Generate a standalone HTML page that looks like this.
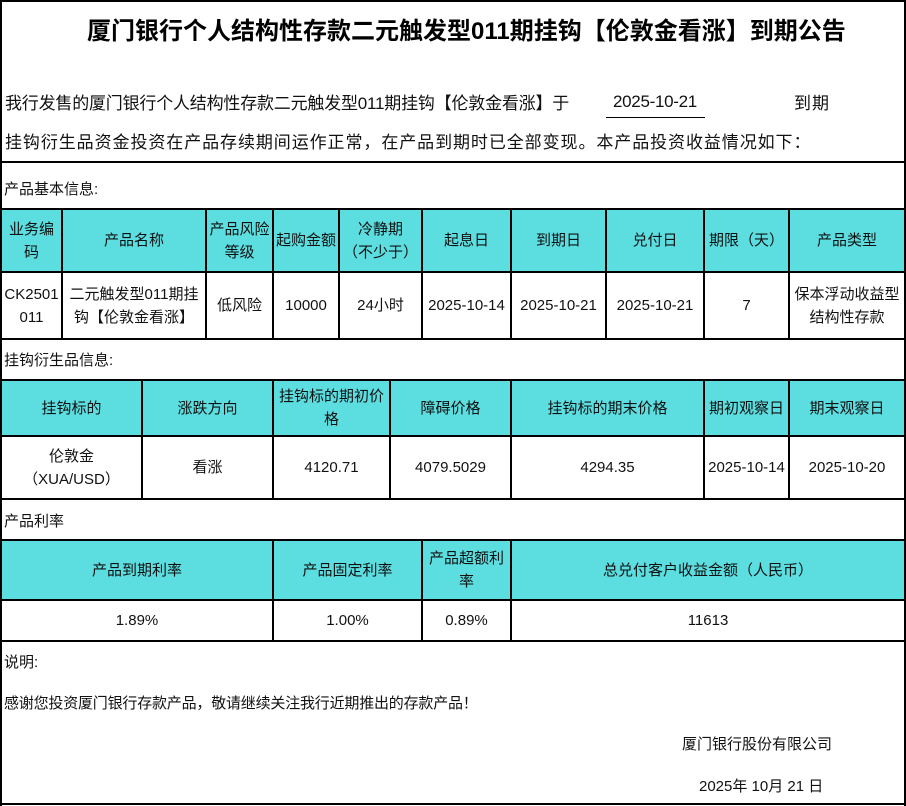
<!DOCTYPE html>
<html>
<head>
<meta charset="utf-8">
<style>
  html,body{margin:0;padding:0;background:#fff;}
  body{width:906px;height:806px;position:relative;overflow:hidden;
       font-family:"Liberation Sans","Noto Sans CJK SC",sans-serif;color:#111;}
  .l{position:absolute;background:#000;}
  .c{position:absolute;display:flex;align-items:center;justify-content:center;
     text-align:center;font-size:15px;line-height:23px;white-space:nowrap;}
  .cy{position:absolute;background:#5cdde0;}
  .t{position:absolute;white-space:nowrap;display:flex;align-items:center;}
</style>
</head>
<body>
<!-- cyan header fills -->
<div class="cy" style="left:2px;top:210px;width:902px;height:61px;"></div>
<div class="cy" style="left:2px;top:381px;width:902px;height:54px;"></div>
<div class="cy" style="left:2px;top:541px;width:902px;height:58px;"></div>

<!-- outer border -->
<div class="l" style="left:0;top:0;width:906px;height:2px;"></div>
<div class="l" style="left:0;top:0;width:2px;height:806px;"></div>
<div class="l" style="left:904px;top:0;width:2px;height:806px;"></div>
<div class="l" style="left:0;top:803px;width:906px;height:2px;"></div>

<!-- horizontal lines -->
<div class="l" style="left:0;top:161px;width:906px;height:2px;"></div>
<div class="l" style="left:0;top:208px;width:906px;height:2px;"></div>
<div class="l" style="left:0;top:271px;width:906px;height:2px;"></div>
<div class="l" style="left:0;top:338px;width:906px;height:2px;"></div>
<div class="l" style="left:0;top:379px;width:906px;height:2px;"></div>
<div class="l" style="left:0;top:435px;width:906px;height:2px;"></div>
<div class="l" style="left:0;top:498px;width:906px;height:2px;"></div>
<div class="l" style="left:0;top:539px;width:906px;height:2px;"></div>
<div class="l" style="left:0;top:599px;width:906px;height:2px;"></div>
<div class="l" style="left:0;top:640px;width:906px;height:2px;"></div>

<!-- table1 verticals -->
<div class="l" style="left:61px;top:208px;width:2px;height:132px;"></div>
<div class="l" style="left:205px;top:208px;width:2px;height:132px;"></div>
<div class="l" style="left:272px;top:208px;width:2px;height:132px;"></div>
<div class="l" style="left:338px;top:208px;width:2px;height:132px;"></div>
<div class="l" style="left:421px;top:208px;width:2px;height:132px;"></div>
<div class="l" style="left:510px;top:208px;width:2px;height:132px;"></div>
<div class="l" style="left:605px;top:208px;width:2px;height:132px;"></div>
<div class="l" style="left:703px;top:208px;width:2px;height:132px;"></div>
<div class="l" style="left:788px;top:208px;width:2px;height:132px;"></div>

<!-- table2 verticals -->
<div class="l" style="left:141px;top:379px;width:2px;height:121px;"></div>
<div class="l" style="left:272px;top:379px;width:2px;height:121px;"></div>
<div class="l" style="left:389px;top:379px;width:2px;height:121px;"></div>
<div class="l" style="left:510px;top:379px;width:2px;height:121px;"></div>
<div class="l" style="left:703px;top:379px;width:2px;height:121px;"></div>
<div class="l" style="left:788px;top:379px;width:2px;height:121px;"></div>

<!-- table3 verticals -->
<div class="l" style="left:272px;top:539px;width:2px;height:103px;"></div>
<div class="l" style="left:421px;top:539px;width:2px;height:103px;"></div>
<div class="l" style="left:510px;top:539px;width:2px;height:103px;"></div>

<!-- title -->
<div class="t" style="left:87px;top:20px;height:24px;font-size:24px;line-height:24px;font-weight:bold;color:#000;">厦门银行个人结构性存款二元触发型011期挂钩【伦敦金看涨】到期公告</div>

<!-- intro lines -->
<div class="t" style="left:5px;top:90px;height:23px;font-size:17px;letter-spacing:-0.2px;">我行发售的厦门银行个人结构性存款二元触发型011期挂钩【伦敦金看涨】于</div>
<div class="t" style="left:613px;top:90px;height:23px;font-size:17px;letter-spacing:-0.3px;">2025-10-21</div>
<div class="l" style="left:606px;top:117px;width:99px;height:1px;"></div>
<div class="t" style="left:794px;top:90px;height:23px;font-size:17px;letter-spacing:1px;">到期</div>
<div class="t" style="left:5px;top:129px;height:23px;font-size:17px;letter-spacing:0.92px;">挂钩衍生品资金投资在产品存续期间运作正常，在产品到期时已全部变现。本产品投资收益情况如下：</div>

<!-- section labels -->
<div class="t" style="left:4px;top:177px;height:23px;font-size:15px;">产品基本信息:</div>
<div class="t" style="left:4px;top:348px;height:23px;font-size:15px;">挂钩衍生品信息:</div>
<div class="t" style="left:4px;top:509px;height:23px;font-size:15px;">产品利率</div>
<div class="t" style="left:4px;top:650px;height:23px;font-size:15px;">说明:</div>
<div class="t" style="left:4px;top:691px;height:23px;font-size:15px;letter-spacing:-0.2px;">感谢您投资厦门银行存款产品，敬请继续关注我行近期推出的存款产品！</div>
<div class="t" style="left:682px;top:732px;height:23px;font-size:15px;">厦门银行股份有限公司</div>
<div class="t" style="left:699px;top:774px;height:23px;font-size:15px;">2025年 10月 21 日</div>

<!-- table1 header -->
<div class="c" style="left:2px;top:210px;width:59px;height:61px;">业务编<br>码</div>
<div class="c" style="left:63px;top:210px;width:142px;height:61px;">产品名称</div>
<div class="c" style="left:207px;top:210px;width:65px;height:61px;">产品风险<br>等级</div>
<div class="c" style="left:274px;top:210px;width:64px;height:61px;">起购金额</div>
<div class="c" style="left:340px;top:210px;width:81px;height:61px;">冷静期<br>（不少于）</div>
<div class="c" style="left:423px;top:210px;width:87px;height:61px;">起息日</div>
<div class="c" style="left:512px;top:210px;width:93px;height:61px;">到期日</div>
<div class="c" style="left:607px;top:210px;width:96px;height:61px;">兑付日</div>
<div class="c" style="left:705px;top:210px;width:83px;height:61px;">期限（天）</div>
<div class="c" style="left:790px;top:210px;width:114px;height:61px;">产品类型</div>

<!-- table1 data -->
<div class="c" style="left:2px;top:273px;width:59px;height:65px;">CK2501<br>011</div>
<div class="c" style="left:63px;top:273px;width:142px;height:65px;">二元触发型011期挂<br>钩【伦敦金看涨】</div>
<div class="c" style="left:207px;top:273px;width:65px;height:65px;">低风险</div>
<div class="c" style="left:274px;top:273px;width:64px;height:65px;">10000</div>
<div class="c" style="left:340px;top:273px;width:81px;height:65px;">24小时</div>
<div class="c" style="left:423px;top:273px;width:87px;height:65px;">2025-10-14</div>
<div class="c" style="left:512px;top:273px;width:93px;height:65px;">2025-10-21</div>
<div class="c" style="left:607px;top:273px;width:96px;height:65px;">2025-10-21</div>
<div class="c" style="left:705px;top:273px;width:83px;height:65px;">7</div>
<div class="c" style="left:790px;top:273px;width:114px;height:65px;">保本浮动收益型<br>结构性存款</div>

<!-- table2 header -->
<div class="c" style="left:2px;top:381px;width:139px;height:54px;">挂钩标的</div>
<div class="c" style="left:143px;top:381px;width:129px;height:54px;">涨跌方向</div>
<div class="c" style="left:274px;top:381px;width:115px;height:54px;">挂钩标的期初价<br>格</div>
<div class="c" style="left:391px;top:381px;width:119px;height:54px;">障碍价格</div>
<div class="c" style="left:512px;top:381px;width:191px;height:54px;">挂钩标的期末价格</div>
<div class="c" style="left:705px;top:381px;width:83px;height:54px;">期初观察日</div>
<div class="c" style="left:790px;top:381px;width:114px;height:54px;">期末观察日</div>

<!-- table2 data -->
<div class="c" style="left:2px;top:437px;width:139px;height:61px;">伦敦金<br>（XUA/USD）</div>
<div class="c" style="left:143px;top:437px;width:129px;height:61px;">看涨</div>
<div class="c" style="left:274px;top:437px;width:115px;height:61px;">4120.71</div>
<div class="c" style="left:391px;top:437px;width:119px;height:61px;">4079.5029</div>
<div class="c" style="left:512px;top:437px;width:191px;height:61px;">4294.35</div>
<div class="c" style="left:705px;top:437px;width:83px;height:61px;">2025-10-14</div>
<div class="c" style="left:790px;top:437px;width:114px;height:61px;">2025-10-20</div>

<!-- table3 header -->
<div class="c" style="left:2px;top:541px;width:270px;height:58px;">产品到期利率</div>
<div class="c" style="left:274px;top:541px;width:147px;height:58px;">产品固定利率</div>
<div class="c" style="left:423px;top:541px;width:87px;height:58px;">产品超额利<br>率</div>
<div class="c" style="left:512px;top:541px;width:392px;height:58px;">总兑付客户收益金额（人民币）</div>

<!-- table3 data -->
<div class="c" style="left:2px;top:601px;width:270px;height:39px;">1.89%</div>
<div class="c" style="left:274px;top:601px;width:147px;height:39px;">1.00%</div>
<div class="c" style="left:423px;top:601px;width:87px;height:39px;">0.89%</div>
<div class="c" style="left:512px;top:601px;width:392px;height:39px;">11613</div>
</body>
</html>
